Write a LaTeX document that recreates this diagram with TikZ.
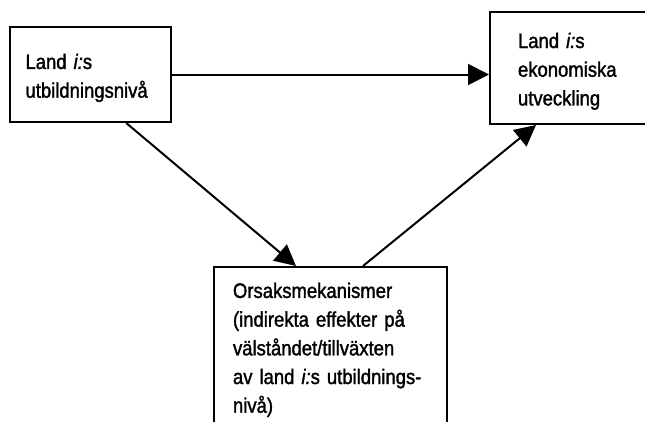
\documentclass[tikz,border=0pt]{standalone}
\usepackage{fontspec}
\setmainfont{Liberation Sans}[FakeStretch=0.88,FakeBold=1.5]
\usetikzlibrary{arrows.meta}
\tikzset{
  factor/.style={draw, line width=2pt, rectangle, anchor=north west, align=left,
    font=\fontsize{21pt}{28.7pt}\selectfont},
  effect/.style={line width=2pt, -{Triangle[length=21pt,width=21pt]}}
}
\begin{document}
\begin{tikzpicture}[x=1pt,y=-1pt]
    % Frame
    \useasboundingbox (0,0) rectangle (645,421);
    \clip (0,0) rectangle (645,421);

    % Boxes
    \node[factor, text width=129.5pt, inner xsep=16pt, inner ysep=0pt, minimum height=95pt] (edu) at (8.5,26)
      {\rule{0pt}{22pt}Land \textit{i:}s\\utbildningsnivå};
    \node[factor, text width=115pt, inner xsep=28pt, inner ysep=0pt, minimum height=112pt] (growth) at (489,11)
      {\rule{0pt}{21.8pt}Land \textit{i:}s\\ekonomiska\\utveckling};
    \node[factor, text width=195pt, inner xsep=19pt, inner ysep=15.7pt] (mech) at (213,266)
      {Orsaksmekanismer\\(indirekta effekter på\\välståndet/tillväxten\\av~land~\textit{i:}s~utbildnings-\\nivå)};

    % Effects
    \draw[effect] (edu.east) -- (edu.east -| growth.west);
    \draw[effect] ([xshift=36pt]edu.south) -- ([xshift=-34.5pt]mech.north);
    \draw[effect] ([xshift=32.5pt]mech.north) -- ([xshift=-39.5pt]growth.south);
\end{tikzpicture}
\end{document}
